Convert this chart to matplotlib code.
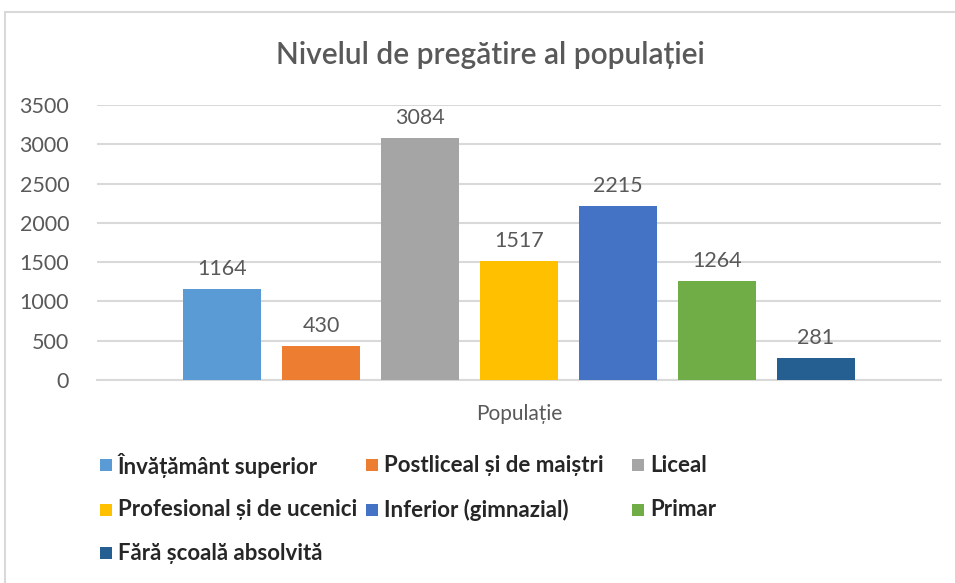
import matplotlib
matplotlib.use("Agg")
import matplotlib.pyplot as plt
from matplotlib.patches import Rectangle

categories = ["Învățământ superior", "Postliceal și de maiștri", "Liceal",
              "Profesional și de ucenici", "Inferior (gimnazial)", "Primar",
              "Fără școală absolvită"]
values = [1164, 430, 3084, 1517, 2215, 1264, 281]
colors = ["#5B9BD5", "#ED7D31", "#A5A5A5", "#FFC000", "#4472C4", "#70AD47", "#255E91"]
yticks = [0, 500, 1000, 1500, 2000, 2500, 3000, 3500]
group_label = "Populație"
title = "Nivelul de pregătire al populației"

W, H = 955, 583
plt.rcParams['font.family'] = ['Lato', 'DejaVu Sans']
fig = plt.figure(figsize=(W / 100, H / 100), dpi=100)

def fx(px):
    return px / W

def fy(py):
    return 1 - py / H

# chart-area border
fig.patches.append(Rectangle((fx(5), fy(700)), fx(1100), fy(12) - fy(700),
                             transform=fig.transFigure, fill=False,
                             edgecolor="#D9D9D9", linewidth=1.5))

left, right, top, bottom = 97, 941, 105, 380
ax = fig.add_axes([fx(left), fy(bottom), fx(right - left), fy(top) - fy(bottom)])

n = len(values)
offsets = [i - (n - 1) / 2 for i in range(n)]
span = (right - left) / 99.0
ax.set_xlim(-span / 2, span / 2)
ax.set_ylim(0, 3500)

bars = ax.bar(offsets, values, width=0.78, color=colors, zorder=3)
for b, v in zip(bars, values):
    ax.annotate(str(v), (b.get_x() + b.get_width() / 2, v), xytext=(0, 7),
                textcoords="offset points", ha="center", va="bottom",
                fontsize=15.5, color="#595959")

ax.set_yticks(yticks)
ax.set_yticklabels([str(t) for t in yticks], fontsize=15.5, color="#595959")
ax.tick_params(axis="y", length=0, pad=20)
ax.set_xticks([0])
ax.set_xticklabels([group_label], fontsize=15, color="#595959")
ax.tick_params(axis="x", length=0, pad=17)
ax.grid(axis="y", color="#D9D9D9", linewidth=1.5, zorder=0)
for s in ["top", "right", "left"]:
    ax.spines[s].set_visible(False)
ax.spines["bottom"].set_color("#D9D9D9")
ax.spines["bottom"].set_linewidth(1.5)

fig.text(fx(490), fy(55), title, ha="center", va="center", fontsize=21.5,
         color="#595959", fontweight="semibold")

# legend (flow layout like the original)
leg_sq_x = [100, 366, 632, 100, 366, 632, 100]
leg_y = [465, 465, 465, 510, 510, 510, 553]
sq = 12
for i, (name, c) in enumerate(zip(categories, colors)):
    x, y = leg_sq_x[i], leg_y[i]
    fig.patches.append(Rectangle((fx(x), fy(y + sq / 2)), fx(sq), fy(y - sq / 2) - fy(y + sq / 2),
                                 transform=fig.transFigure, facecolor=c, edgecolor="none"))
    fig.text(fx(x + 18), fy(y), name, ha="left", va="center", fontsize=16,
             fontweight="bold", color="#262626")

fig.savefig("out.png", dpi=100)
